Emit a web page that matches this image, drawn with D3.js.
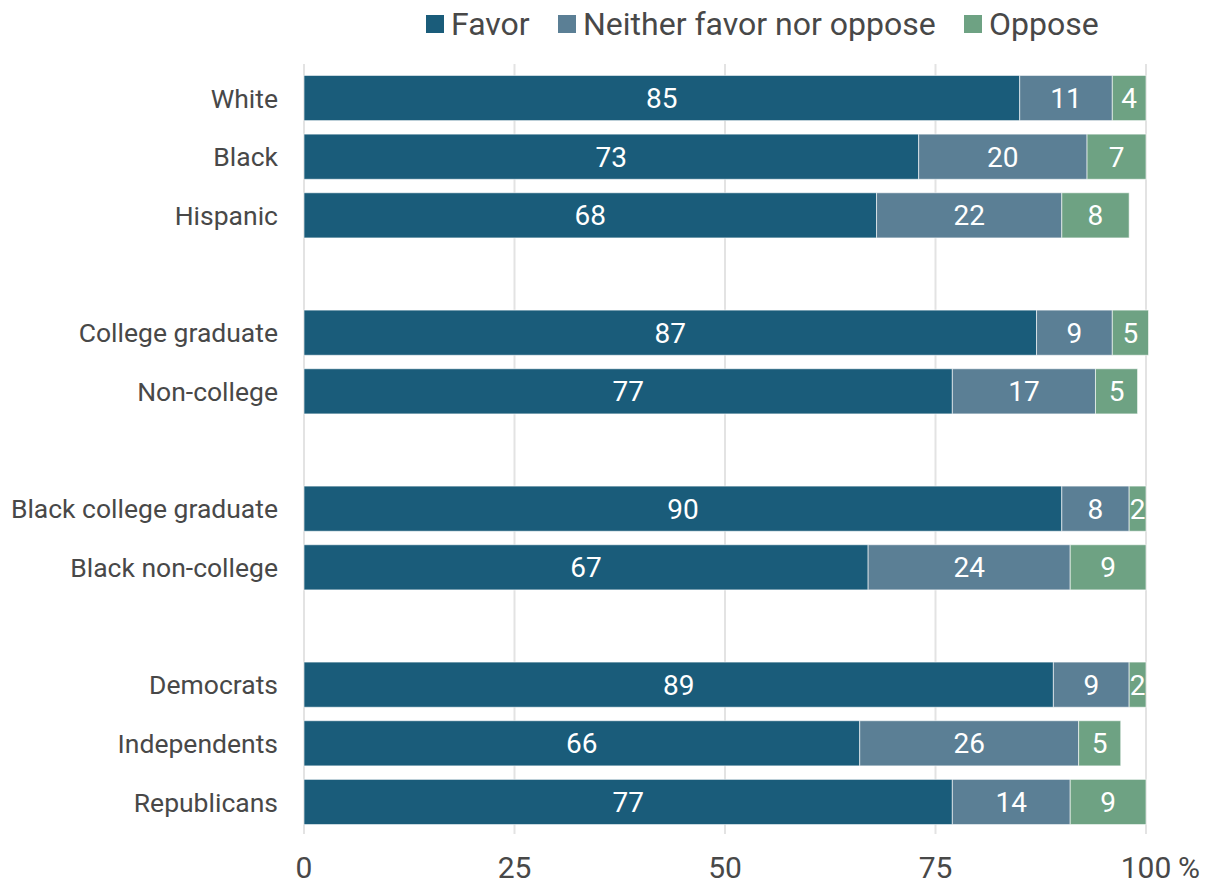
<!DOCTYPE html>
<html>
<head>
<meta charset="utf-8">
<script src="https://cdn.jsdelivr.net/npm/d3@7"></script>
<style>
  body { margin: 0; background: #fff; }
  text { font-family: Roboto, "Noto Sans", sans-serif; }
</style>
</head>
<body>
<svg width="1207" height="881"></svg>
<script>
// data ("" = blank spacer row)
var categories = ["White", "Black", "Hispanic", "",
    "College graduate", "Non-college", "",
    "Black college graduate", "Black non-college", "",
    "Democrats", "Independents", "Republicans"];
var favor   = [85, 73, 68, null, 87, 77, null, 90, 67, null, 89, 66, 77];
var neither = [11, 20, 22, null, 9, 17, null, 8, 24, null, 9, 26, 14];
// bar lengths for "Oppose" (College graduate bar is shorter than its rounded label)
var oppose  = [4, 7, 8, null, 4.3, 5, null, 2, 9, null, 2, 5, 9];
var opposeLabels = [4, 7, 8, null, 5, 5, null, 2, 9, null, 2, 5, 9];
var seriesNames = ["Favor", "Neither favor nor oppose", "Oppose"];
var seriesColors = ["#1a5c7a", "#5b7f95", "#6ea283"];
var ticks = [0, 25, 50, 75, 100];

var svg = d3.select("svg");

var x = d3.scaleLinear().domain([0, 100]).range([304, 1146]);
var y = d3.scaleBand()
    .domain(d3.range(categories.length))
    .range([68.7, 831.3])
    .paddingInner(0.23)
    .paddingOuter(0.115);

// grid
svg.append("g").selectAll("line")
    .data(ticks)
    .enter().append("line")
    .attr("x1", function(d) { return x(d); })
    .attr("x2", function(d) { return x(d); })
    .attr("y1", 64)
    .attr("y2", 834)
    .attr("stroke", "#e3e3e3")
    .attr("stroke-width", 2);

// stack rows
var rows = categories.map(function(c, i) {
    return { i: i, name: c,
        vals: [favor[i], neither[i], oppose[i]],
        labels: [favor[i], neither[i], opposeLabels[i]] };
}).filter(function(r) { return r.name !== ""; });

var segs = [];
rows.forEach(function(r) {
    var x0 = 0;
    r.vals.forEach(function(v, k) {
        segs.push({ i: r.i, k: k, x0: x0, x1: x0 + v, label: r.labels[k] });
        x0 += v;
    });
});

var g = svg.append("g");
g.selectAll("rect")
    .data(segs)
    .enter().append("rect")
    .attr("x", function(d) { return x(d.x0); })
    .attr("y", function(d) { return y(d.i); })
    .attr("width", function(d) { return x(d.x1) - x(d.x0); })
    .attr("height", y.bandwidth())
    .attr("fill", function(d) { return seriesColors[d.k]; })
    .attr("stroke", "rgba(255,255,255,0.6)")
    .attr("stroke-width", 1);

g.selectAll("text")
    .data(segs)
    .enter().append("text")
    .attr("x", function(d) { return (x(d.x0) + x(d.x1)) / 2; })
    .attr("y", function(d) { return y(d.i) + y.bandwidth() / 2; })
    .attr("dy", "0.36em")
    .attr("text-anchor", "middle")
    .attr("fill", "#fff")
    .style("font-size", "28px")
    .text(function(d) { return d.label; });

// category labels
svg.append("g").selectAll("text")
    .data(rows)
    .enter().append("text")
    .attr("x", 278)
    .attr("y", function(d) { return y(d.i) + y.bandwidth() / 2; })
    .attr("dy", "0.36em")
    .attr("text-anchor", "end")
    .attr("fill", "#484848")
    .style("font-size", "26.5px")
    .text(function(d) { return d.name; });

// x axis labels
svg.append("g").selectAll("text")
    .data(ticks)
    .enter().append("text")
    .attr("x", function(d) { return x(d); })
    .attr("y", 878)
    .attr("text-anchor", "middle")
    .attr("fill", "#484848")
    .style("font-size", "30px")
    .text(function(d) { return d; });
svg.append("text")
    .attr("x", x(100) + 32)
    .attr("y", 878)
    .attr("fill", "#484848")
    .style("font-size", "30px")
    .text("%");

// legend
var legX = [426, 558, 964];
var leg = svg.append("g").selectAll("g")
    .data(seriesNames)
    .enter().append("g")
    .attr("transform", function(d, i) { return "translate(" + legX[i] + ",0)"; });
leg.append("rect")
    .attr("y", 15)
    .attr("width", 18)
    .attr("height", 18)
    .attr("fill", function(d, i) { return seriesColors[i]; });
leg.append("text")
    .attr("x", 25)
    .attr("y", 23)
    .attr("dy", "0.36em")
    .attr("fill", "#484848")
    .style("font-size", "32px")
    .text(function(d) { return d; });
</script>
</body>
</html>
